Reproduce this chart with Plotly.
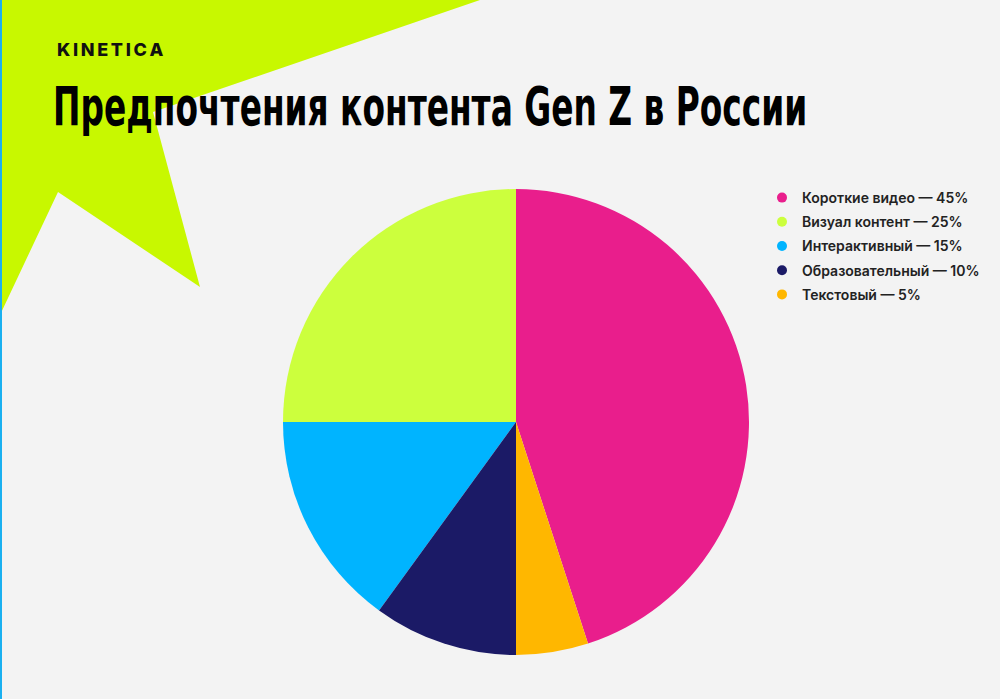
import plotly.graph_objects as go

# данные
labels = ['Короткие видео', 'Визуал контент', 'Интерактивный', 'Образовательный', 'Текстовый']
values = [45, 25, 15, 10, 5]
colors = ['#e91e8c', '#ccff3d', '#00b4ff', '#1b1a66', '#ffb700']

brand = 'KINETICA'
title = 'Предпочтения контента Gen Z в России'

W, H = 1000, 699


def px2paper(x, y):
    return x / W, 1 - y / H


fig = go.Figure()

# сам пирог, легенда отдельно (круглые маркеры)
fig.add_trace(go.Pie(labels=labels, values=values, sort=False,
                     direction='counterclockwise', rotation=0,
                     marker=dict(colors=colors, line=dict(width=0)),
                     textinfo='none', hoverinfo='label+percent',
                     showlegend=False,
                     domain=dict(x=[0.283, 0.749], y=[0.0629, 0.7296])))

for i, (lab, val) in enumerate(zip(labels, values)):
    fig.add_trace(go.Scatter(x=[None], y=[None], mode='markers',
                             name=f'{lab} — {val}%', legendgroup=str(i),
                             marker=dict(color=colors[i], size=10, symbol='circle')))

# зелёная фигура слева сверху
pts = [(0, 0), (480, 0), (153, 112), (200, 287), (58, 192), (0, 315)]
path = 'M ' + ' L '.join(f'{px2paper(x, y)[0]:.4f},{px2paper(x, y)[1]:.4f}' for x, y in pts) + ' Z'
shapes = [
    dict(type='path', path=path, xref='paper', yref='paper',
         fillcolor='#c8f800', line=dict(width=0), layer='below'),
    dict(type='line', x0=0.001, x1=0.001, y0=0, y1=1, xref='paper', yref='paper',
         line=dict(color='#1ab0f0', width=2)),
]

fig.update_layout(
    width=W, height=H,
    margin=dict(l=0, r=0, t=0, b=0),
    paper_bgcolor='#f3f3f3', plot_bgcolor='rgba(0,0,0,0)',
    xaxis=dict(visible=False), yaxis=dict(visible=False),
    shapes=shapes,
    showlegend=True,
    legend=dict(x=0.762, y=1 - 182 / H, xanchor='left', yanchor='top',
                traceorder='grouped', tracegroupgap=3,
                font=dict(family='Inter', size=14, color='#222222', weight=600),
                bgcolor='rgba(0,0,0,0)'),
    annotations=[
        dict(text='\u2009'.join(brand), x=55 / W, y=1 - 49 / H, xref='paper', yref='paper',
             xanchor='left', yanchor='middle', showarrow=False,
             font=dict(family='Inter', size=18, color='#111111', weight=800)),
        dict(text=title, x=51 / W, y=1 - 106 / H, xref='paper', yref='paper',
             xanchor='left', yanchor='middle', showarrow=False,
             font=dict(family='DejaVu Sans Condensed, Roboto, sans-serif', size=36.5,
                       color='#000000', weight=700)),
    ],
)

# узкий высокий шрифт заголовка: растягиваем текст по вертикали
js = """
var gd = document.getElementById('{plot_id}');
document.body.style.margin = '0';
function stretch() {
  document.querySelectorAll('.annotation-text').forEach(function (t) {
    if (t.textContent.indexOf('Gen Z') >= 0) {
      t.style.transformBox = 'fill-box';
      t.style.transformOrigin = 'left center';
      t.style.transform = 'scaleY(1.45)';
    }
  });
}
stretch();
if (gd && gd.on) { gd.on('plotly_afterplot', stretch); }
"""

fig.write_html('out.html', config={'displayModeBar': False}, post_script=js)
